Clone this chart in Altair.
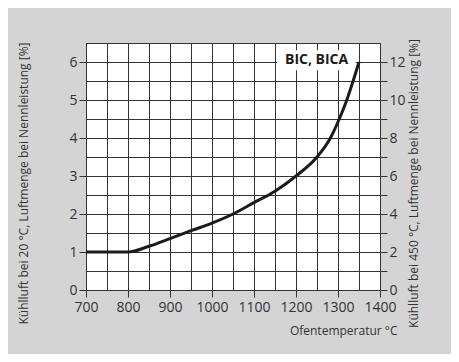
import altair as alt
import pandas as pd

# Curve: Ofentemperatur (°C) vs. Kühlluft bei 20 °C [%]
temps = [700, 800, 850, 900, 950, 1000, 1050, 1100, 1150, 1200, 1250, 1282, 1303, 1321, 1336, 1350]
air20 = [1.0, 1.0, 1.15, 1.35, 1.56, 1.76, 2.0, 2.3, 2.6, 3.0, 3.5, 4.0, 4.5, 5.0, 5.5, 6.0]

label_text = ["BIC, BICA"]
label_x = [1249]
label_y = [6.05]
box_x = [1155]
box_x2 = [1342]
box_y = [5.78]
box_y2 = [6.31]

x_ticks = list(range(700, 1401, 50))
left_ticks = [i * 0.5 for i in range(13)]
right_ticks = list(range(0, 13))

FONT = "Open Sans"
DARK = "#333333"
W, H = 294, 247   # 21 px per 50 °C, 19 px per 0.5 % -> crisp grid lines

curve = pd.DataFrame({"t": temps, "v": air20})
lab = pd.DataFrame({"text": label_text, "x": label_x, "y": label_y})
box = pd.DataFrame({"bx": box_x, "bx2": box_x2, "by": box_y, "by2": box_y2})
vgrid = pd.DataFrame({"gt": x_ticks})
hgrid = pd.DataFrame({"gv": left_ticks})

xscale = alt.Scale(domain=[700, 1400], nice=False, zero=False)
yscale = alt.Scale(domain=[0, 6.5], nice=False)

xaxis = alt.Axis(
    values=x_ticks, format="d",
    labelExpr="datum.value % 100 == 0 ? datum.label : ''",
    labelOverlap=False, labelFlush=False, grid=False, tickSize=7, labelPadding=3,
    title="Ofentemperatur °C", titleX=311, titleY=40,
    titleAlign="right", titleBaseline="middle", titleFontSize=12,
)

yaxis = alt.Axis(
    values=left_ticks,
    labelExpr="datum.value % 1 == 0 ? datum.label : ''",
    labelOverlap=False, labelFlush=False, grid=False, tickSize=7, labelPadding=2,
    title="Kühlluft bei 20 °C, Luftmenge bei Nennleistung [%]",
    titleAngle=270, titleX=-63, titleY=140,
    titleAlign="center", titleBaseline="middle", titleFontSize=12,
)

# invisible carrier of the left / bottom axes
axes_layer = alt.Chart(curve).mark_line(opacity=0).encode(
    x=alt.X("t:Q", scale=xscale, axis=xaxis),
    y=alt.Y("v:Q", scale=yscale, axis=yaxis),
)

vrules = alt.Chart(vgrid).mark_rule(color=DARK, strokeWidth=1, xOffset=0.5).encode(
    x=alt.X("gt:Q", scale=xscale),
    y=alt.value(0),
    y2=alt.value(H),
)

hrules = alt.Chart(hgrid).mark_rule(color=DARK, strokeWidth=1, yOffset=0.5).encode(
    y=alt.Y("gv:Q", scale=yscale),
    x=alt.value(0),
    x2=alt.value(W),
)

boxes = alt.Chart(box).mark_rect(fill="white").encode(
    x=alt.X("bx:Q", scale=xscale),
    x2=alt.X2("bx2:Q"),
    y=alt.Y("by:Q", scale=yscale),
    y2=alt.Y2("by2:Q"),
)

line = alt.Chart(curve).mark_line(
    color="#1e1a1a", strokeWidth=3, interpolate="monotone"
).encode(
    x=alt.X("t:Q", scale=xscale),
    y=alt.Y("v:Q", scale=yscale),
)

text = alt.Chart(lab).mark_text(
    font=FONT, fontWeight="bold", fontSize=14, color="#1e1a1a",
    align="center", baseline="middle",
).encode(
    x=alt.X("x:Q", scale=xscale),
    y=alt.Y("y:Q", scale=yscale),
    text="text:N",
)

right = alt.Chart(curve).transform_calculate(v450="datum.v * 2").mark_line(
    opacity=0
).encode(
    x=alt.X("t:Q", scale=xscale),
    y=alt.Y(
        "v450:Q",
        scale=alt.Scale(domain=[0, 13], nice=False),
        axis=alt.Axis(
            orient="right", values=right_ticks,
            labelExpr="datum.value % 2 == 0 ? datum.label : ''",
            labelOverlap=False, labelFlush=False, grid=False, tickSize=7, labelPadding=2,
            title="Kühlluft bei 450 °C, Luftmenge bei Nennleistung [%]",
            titleAngle=270, titleX=33, titleY=140,
            titleAlign="center", titleBaseline="middle", titleFontSize=12,
        ),
    ),
)

left_layer = alt.layer(axes_layer, vrules, hrules, boxes, line, text)

chart = alt.layer(left_layer, right).resolve_scale(y="independent").properties(
    width=W, height=H,
    autosize=alt.AutoSizeParams(type="none"),
    padding={"left": 78, "top": 35, "right": 71, "bottom": 64},
    background="#d4d4d4",
).configure_view(
    fill="white", stroke=DARK, strokeWidth=1,
).configure_axis(
    labelFont=FONT, labelFontSize=14, labelColor=DARK,
    titleFont=FONT, titleColor=DARK, titleFontWeight="normal",
    tickColor=DARK, domainColor=DARK,
    tickWidth=1, domainWidth=1,
)

chart.save("out.html", embed_options={"renderer": "svg", "actions": False})
